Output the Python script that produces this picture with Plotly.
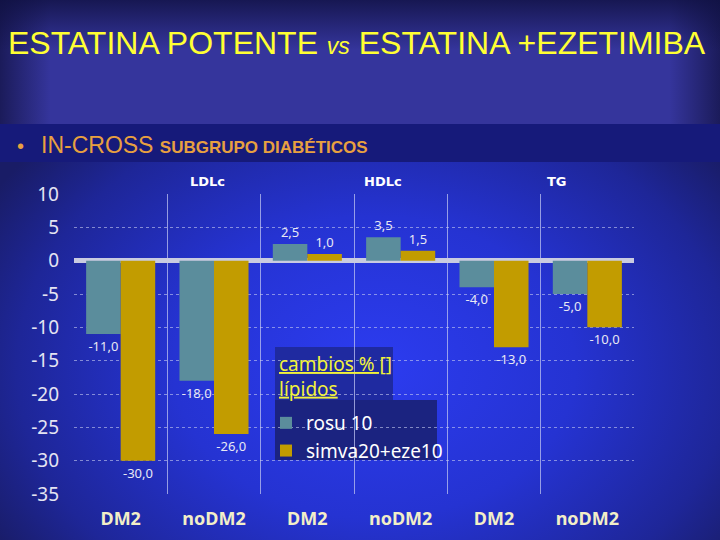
import base64

import plotly.graph_objects as go

# --- data -----------------------------------------------------------------
categories = ["DM2", "noDM2", "DM2", "noDM2", "DM2", "noDM2"]
lipids = ["LDLc", "HDLc", "TG"]
rosu = [-11.0, -18.0, 2.5, 3.5, -4.0, -5.0]
simva_eze = [-30.0, -26.0, 1.0, 1.5, -13.0, -10.0]
series_names = ["rosu 10", "simva20+eze10"]
legend_title = ["cambios % []", "lípidos"]
y_ticks = [10, 5, 0, -5, -10, -15, -20, -25, -30, -35]

COLORS = {
    "rosu": "#5b8d9c",
    "simva": "#c29c00",
    "title": "#ffff33",
    "orange": "#e8a040",
    "legend_title": "#f2f23a",
    "tick": "#e4e4f2",
    "cat": "#f2eec8",
}

W, H = 720, 540
L, R, T, B = 74, 86, 194, 46
PW, PH = W - L - R, H - T - B


def fmt(v):
    return f"{v:.1f}".replace(".", ",")


def px_x(x):
    return (x - L) / PW


def px_y(y):
    return (H - B - y) / PH


# background drawn as an svg gradient
svg = """<svg xmlns="http://www.w3.org/2000/svg" width="720" height="540" viewBox="0 0 720 540" preserveAspectRatio="none">
<defs>
<radialGradient id="g" cx="0.52" cy="0.68" r="0.62">
<stop offset="0" stop-color="#2c3cf0"/>
<stop offset="0.45" stop-color="#2533d2"/>
<stop offset="0.8" stop-color="#1e2698"/>
<stop offset="1" stop-color="#191c66"/>
</radialGradient>
<linearGradient id="h" x1="0" x2="1" y1="0" y2="0">
<stop offset="0" stop-color="#1b1b5a"/>
<stop offset="0.07" stop-color="#35359c"/>
<stop offset="0.93" stop-color="#35359c"/>
<stop offset="1" stop-color="#1b1b5a"/>
</linearGradient>
<linearGradient id="v" x1="0" x2="0" y1="0" y2="1">
<stop offset="0" stop-color="#0f1040" stop-opacity="0.8"/>
<stop offset="0.4" stop-color="#0f1040" stop-opacity="0"/>
<stop offset="1" stop-color="#0f1040" stop-opacity="0"/>
</linearGradient>
</defs>
<rect x="0" y="0" width="720" height="540" fill="url(#g)"/>
<rect x="0" y="0" width="720" height="125" fill="url(#h)"/>
<rect x="0" y="0" width="720" height="125" fill="url(#v)"/>
<rect x="0" y="124" width="720" height="38" fill="#161a7a"/>
</svg>"""
bg_src = "data:image/svg+xml;base64," + base64.b64encode(svg.encode()).decode()

xs = list(range(len(categories)))
label_font = dict(family="Noto Sans", size=13, color="#e8e8f4")

fig = go.Figure()
fig.add_trace(
    go.Bar(
        x=xs,
        y=rosu,
        name=series_names[0],
        marker=dict(color=COLORS["rosu"], line=dict(width=0)),
        text=[fmt(v) for v in rosu],
        textposition="outside",
        textfont=label_font,
        cliponaxis=False,
    )
)
fig.add_trace(
    go.Bar(
        x=xs,
        y=simva_eze,
        name=series_names[1],
        marker=dict(color=COLORS["simva"], line=dict(width=0)),
        text=[fmt(v) for v in simva_eze],
        textposition="outside",
        textfont=label_font,
        cliponaxis=False,
    )
)

fig.update_layout(
    width=W,
    height=H,
    margin=dict(l=L, r=R, t=T, b=B, autoexpand=False),
    paper_bgcolor="#1b1d66",
    plot_bgcolor="rgba(0,0,0,0)",
    barmode="group",
    bargap=0.26,
    bargroupgap=0,
    showlegend=True,
    legend=dict(
        x=px_x(266),
        y=px_y(404),
        xanchor="left",
        yanchor="top",
        bgcolor="rgba(0,0,0,0)",
        font=dict(family="Noto Sans", size=19, color="#ffffff"),
        tracegroupgap=0,
        itemwidth=30,
    ),
    images=[
        dict(
            source=bg_src,
            xref="paper",
            yref="paper",
            x=-L / PW,
            y=1 + T / PH,
            sizex=W / PW,
            sizey=H / PH,
            xanchor="left",
            yanchor="top",
            sizing="stretch",
            layer="below",
        )
    ],
    shapes=[
        dict(type="rect", xref="paper", yref="paper",
             x0=px_x(275), x1=px_x(393), y0=px_y(400), y1=px_y(347),
             fillcolor="#1f2aa0", line=dict(width=0), layer="below"),
        dict(type="rect", xref="paper", yref="paper",
             x0=px_x(275), x1=px_x(437), y0=px_y(460), y1=px_y(400),
             fillcolor="#1b2380", line=dict(width=0), layer="below"),
    ],
)

fig.update_xaxes(
    range=[-0.5, len(categories) - 0.5],
    tickvals=xs,
    ticktext=categories,
    tickfont=dict(family="Noto Sans", size=18, color=COLORS["cat"], weight="bold"),
    showgrid=False,
    zeroline=False,
    showline=False,
    ticks="",
    ticklabelstandoff=12,
    minor=dict(
        tickvals=[i - 0.5 for i in range(len(categories) + 1)],
        showgrid=True,
        gridcolor="rgba(190,195,240,0.75)",
        gridwidth=1,
        ticks="",
    ),
)
fig.update_yaxes(
    range=[-35, 10],
    tickvals=y_ticks,
    ticktext=[str(v) for v in y_ticks],
    tickfont=dict(family="Noto Sans", size=19, color=COLORS["tick"]),
    showgrid=True,
    gridcolor="rgba(200,205,240,0.6)",
    griddash="dot",
    gridwidth=1,
    zeroline=True,
    zerolinecolor="#c9cbe0",
    zerolinewidth=5,
    showline=False,
    ticks="",
    ticklabelstandoff=14,
)

# legend title, underlined, in its own box
fig.add_annotation(
    xref="paper", yref="paper", x=px_x(277), y=px_y(349),
    text="<br>".join(f"<u>{t}</u>" for t in legend_title),
    showarrow=False, xanchor="left", yanchor="top", align="left",
    font=dict(family="Noto Sans", size=19, color=COLORS["legend_title"]),
)

# header texts
fig.add_annotation(
    xref="paper", yref="paper", x=px_x(357), y=px_y(43),
    text="ESTATINA POTENTE <i><span style='font-size:23px'>vs</span></i> ESTATINA +EZETIMIBA",
    showarrow=False, xanchor="center", yanchor="middle",
    font=dict(family="Liberation Sans", size=32, color=COLORS["title"]),
)
fig.add_annotation(
    xref="paper", yref="paper", x=px_x(15), y=px_y(146),
    text="•", showarrow=False, xanchor="left", yanchor="middle",
    font=dict(family="Liberation Sans", size=20, color=COLORS["orange"]),
)
fig.add_annotation(
    xref="paper", yref="paper", x=px_x(39), y=px_y(145),
    text="IN-CROSS <b><span style='font-size:17px'>SUBGRUPO DIABÉTICOS</span></b>",
    showarrow=False, xanchor="left", yanchor="middle",
    font=dict(family="Liberation Sans", size=23, color=COLORS["orange"]),
)

label_px = [207, 383, 557]
for name, xp in zip(lipids, label_px):
    fig.add_annotation(
        xref="paper", yref="paper", x=px_x(xp), y=px_y(181),
        text=f"<b>{name}</b>", showarrow=False, xanchor="center", yanchor="middle",
        font=dict(family="DejaVu Sans", size=13, color="#ffffff"),
    )

fig.write_html(
    "out.html",
    config={"displayModeBar": False},
    post_script="document.body.style.margin='0';",
)
